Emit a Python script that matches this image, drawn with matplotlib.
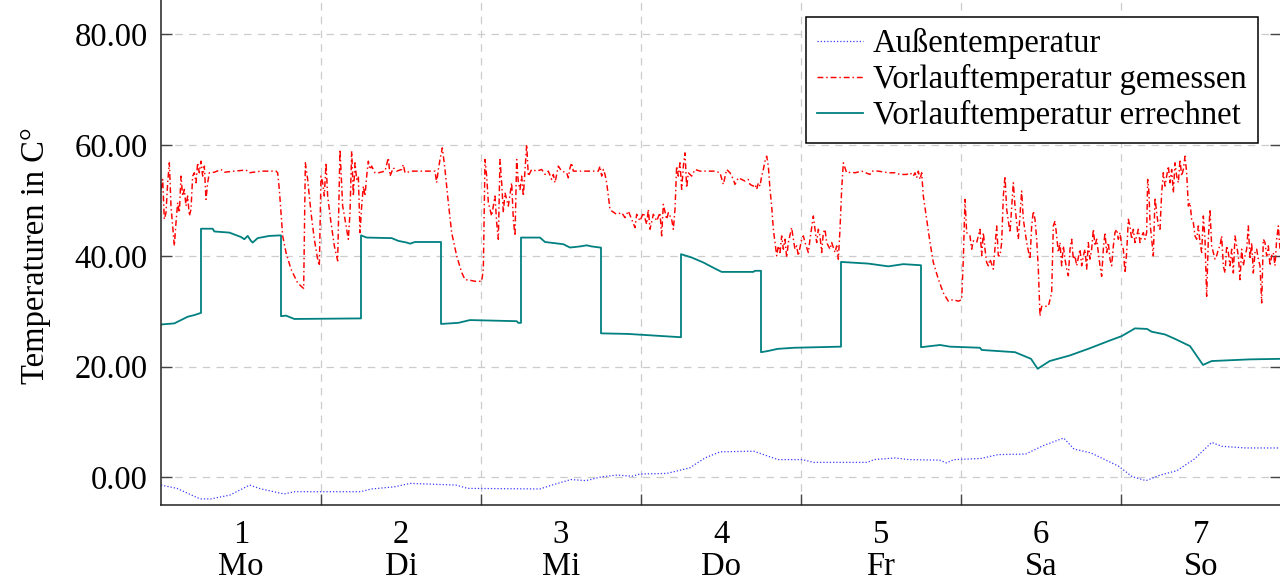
import matplotlib
matplotlib.use("Agg")
import matplotlib.pyplot as plt
import numpy as np
from matplotlib.ticker import FixedLocator, FixedFormatter, FormatStrFormatter

plt.rcParams["font.family"] = ["Liberation Serif", "DejaVu Serif"]

# --- data (time in hours from Monday 00:00, temperatures in degC) ---
day_numbers = ["1", "2", "3", "4", "5", "6", "7"]
day_names = ["Mo", "Di", "Mi", "Do", "Fr", "Sa", "So"]

outside_points = [
    (0.0, -1.4), (2.4, -2.0), (5.85, -3.9), (7.5, -3.9), (10.35, -3.2), (13.3, -1.4),
    (15.0, -2.1), (18.45, -3.0), (20.1, -2.6), (29.9, -2.6), (31.65, -2.1), (35.1, -1.7),
    (37.35, -1.1), (44.25, -1.4), (46.0, -2.0), (56.85, -2.1), (58.65, -1.4), (61.5, -0.4),
    (63.75, -0.6), (66.1, 0.1), (68.4, 0.4), (70.65, 0.2), (71.85, 0.6), (75.85, 0.7),
    (79.3, 1.7), (81.6, 3.5), (83.85, 4.6), (87.9, 4.7), (88.95, 4.7), (92.55, 3.2),
    (96.15, 3.2), (97.95, 2.7), (105.95, 2.7), (106.95, 3.2), (110.1, 3.5), (112.15, 3.2),
    (116.8, 3.1), (117.85, 2.6), (118.9, 3.2), (123.0, 3.4), (125.55, 4.1), (129.7, 4.2),
    (132.3, 5.7), (135.4, 7.1), (136.95, 5.1), (139.5, 4.4), (143.65, 2.0), (145.7, 0.1),
    (147.75, -0.6), (149.85, 0.4), (152.4, 1.2), (155.0, 3.3), (157.6, 6.3), (159.15, 5.6),
    (162.75, 5.3), (168.0, 5.3),
]

measured_points = [
    # Mo
    (0.0, 52.0), (0.25, 53.8), (0.5, 46.6), (0.75, 47.8), (1.0, 53.2), (1.25, 56.8),
    (1.5, 49.0), (1.75, 45.4), (2.0, 41.8), (2.25, 46.0), (2.5, 49.6), (2.75, 47.8),
    (3.0, 54.4), (3.25, 50.8), (3.5, 52.0), (3.75, 49.0), (4.0, 50.8), (4.25, 47.2),
    (4.5, 48.4), (4.75, 54.4), (5.0, 55.0), (5.25, 53.2), (5.5, 56.8), (5.75, 55.0),
    (6.0, 57.1), (6.25, 54.4), (6.5, 56.2), (6.75, 50.2), (7.0, 53.2), (7.25, 55.0),
    (8.0, 55.1), (9.0, 55.6), (9.5, 55.1), (11.0, 55.3), (12.75, 55.5), (13.25, 55.0),
    (15.0, 55.3), (17.25, 55.3), (17.5, 55.0), (17.75, 52.0), (18.0, 47.8), (18.25, 43.6),
    (18.75, 40.6), (19.5, 37.6), (20.5, 35.1), (21.4, 34.1), (21.65, 56.8), (22.0, 53.8),
    (22.5, 47.8), (23.0, 43.0), (23.5, 39.4), (23.75, 38.2), (24.0, 54.4), (24.25, 53.2),
    (24.5, 50.8), (24.75, 56.8), (25.0, 50.8), (25.5, 46.0), (26.0, 41.8), (26.5, 39.1),
    (26.85, 59.2), (27.25, 49.0),
    # Di
    (27.6, 46.6), (28.1, 43.0), (28.35, 47.8), (28.6, 58.9), (28.85, 50.8), (29.1, 56.8),
    (29.35, 53.8), (29.6, 54.4), (29.85, 44.2), (30.1, 49.0), (30.35, 52.6), (30.6, 50.8),
    (30.85, 54.4), (31.1, 57.1), (31.35, 55.6), (31.6, 56.2), (32.1, 55.0), (32.6, 55.0),
    (33.6, 55.3), (34.1, 57.7), (34.35, 54.4), (34.85, 55.9), (35.35, 55.3), (36.1, 55.6),
    (36.35, 56.5), (36.6, 55.0), (37.6, 55.3), (41.1, 55.3), (41.35, 53.2), (41.6, 55.6),
    (41.85, 57.4), (42.2, 59.5), (42.6, 55.6), (43.1, 49.6), (43.6, 44.2), (44.35, 40.0),
    (45.1, 37.0), (45.6, 35.7), (46.35, 35.6), (47.1, 35.4), (48.1, 35.4), (48.35, 37.6),
    (48.6, 57.4), (48.85, 54.4), (49.1, 49.6), (49.6, 47.2), (50.1, 50.8), (50.35, 46.0),
    (50.6, 43.0), (50.85, 57.4), (51.1, 53.2), (51.35, 47.8), (51.6, 51.4), (52.1, 49.0),
    (52.6, 53.2), (52.85, 46.6), (53.1, 43.6), (53.35, 57.4), (53.6, 53.2), (53.85, 52.0),
    (54.1, 54.4), (54.35, 50.8), (54.85, 60.1), (55.1, 54.4), (55.6, 55.6),
    # Mi
    (56.35, 55.3), (57.1, 55.6), (57.6, 54.7), (58.1, 55.3), (58.6, 53.8), (58.85, 54.7),
    (59.1, 53.2), (59.6, 56.2), (60.1, 55.3), (60.85, 55.0), (61.1, 54.1), (61.35, 55.9),
    (61.6, 56.8), (61.85, 55.3), (62.85, 55.3), (65.6, 55.3), (65.85, 56.2), (66.1, 54.4),
    (66.35, 55.6), (66.6, 54.7), (66.85, 53.2), (67.1, 50.8), (67.35, 48.4), (67.6, 48.1),
    (68.35, 47.5), (69.1, 47.8), (69.6, 46.9), (70.1, 48.1), (70.6, 46.6), (71.1, 45.1),
    (71.35, 47.5), (71.85, 46.3), (72.35, 47.8), (72.85, 45.7), (73.1, 48.4), (73.35, 44.8),
    (73.85, 47.5), (74.35, 46.3), (74.85, 47.8), (75.1, 43.6), (75.35, 49.3), (75.85, 46.6),
    (76.1, 47.8), (76.6, 46.6), (76.85, 44.8), (77.1, 48.4), (77.35, 56.2), (77.6, 54.4),
    (77.85, 56.8), (78.1, 52.0), (78.35, 56.2), (78.6, 58.6), (78.85, 52.3), (79.1, 55.0),
    (79.6, 54.4), (80.1, 55.6), (80.85, 55.3), (82.85, 55.3),
    # Do
    (83.1, 55.3), (83.85, 55.0), (84.35, 52.9), (84.85, 55.6), (85.35, 55.0), (85.85, 53.8),
    (86.1, 52.9), (86.6, 54.1), (87.1, 53.8), (87.6, 53.5), (88.1, 53.8), (88.35, 52.9),
    (88.85, 52.6), (89.1, 52.9), (89.35, 52.0), (89.6, 53.2), (89.85, 52.6), (90.1, 54.4),
    (90.35, 55.6), (90.6, 57.1), (90.85, 58.0), (91.1, 56.2), (91.35, 52.0), (91.6, 49.0),
    (91.85, 44.8), (92.1, 42.4), (92.35, 40.0), (92.6, 41.8), (92.85, 40.6), (93.1, 43.6),
    (93.35, 41.2), (93.6, 43.0), (93.85, 39.7), (94.1, 42.4), (94.6, 45.1), (94.85, 43.0),
    (95.1, 41.2), (95.35, 41.8), (95.6, 40.0), (96.1, 43.0), (96.35, 43.6), (96.6, 42.4),
    (97.1, 40.6), (97.35, 43.0), (97.85, 47.2), (98.1, 44.8), (98.35, 42.4), (98.6, 44.8),
    (98.85, 43.6), (99.1, 40.6), (99.35, 44.2), (99.6, 44.8), (99.85, 42.4), (100.1, 41.8),
    (100.35, 41.2), (100.6, 42.4), (101.1, 40.6), (101.35, 41.8), (101.6, 39.4), (101.85, 44.8),
    (102.1, 52.0), (102.35, 56.8), (102.6, 55.9), (102.85, 55.0), (103.6, 55.1), (104.1, 55.0),
    (105.1, 55.3), (106.35, 54.7), (106.6, 55.3), (107.6, 55.3), (109.1, 55.0), (110.1, 55.0),
    # Fr
    (110.85, 54.7), (111.85, 54.7), (112.35, 55.0), (112.85, 54.4), (113.1, 55.0), (113.35, 54.1),
    (113.6, 55.3), (113.85, 53.8), (114.1, 55.0), (114.35, 50.8), (114.85, 46.6), (115.35, 42.4),
    (115.85, 38.8), (116.6, 35.8), (117.35, 33.3), (118.1, 31.8), (118.85, 32.1), (119.6, 31.8),
    (120.1, 32.1), (120.35, 39.4), (120.6, 50.2), (120.85, 44.2), (121.35, 43.6), (121.6, 41.2),
    (121.85, 42.7), (122.35, 42.4), (122.85, 44.8), (123.1, 40.0), (123.35, 44.2), (123.6, 41.2),
    (123.85, 38.8), (124.1, 38.2), (124.35, 39.4), (124.85, 37.6), (125.35, 45.4), (125.6, 40.0),
    (125.85, 40.0), (126.1, 42.4), (126.35, 50.8), (126.6, 54.4), (126.85, 48.4), (127.35, 44.2),
    (127.85, 53.2), (128.1, 49.0), (128.6, 43.0), (129.1, 51.7), (129.35, 46.6), (129.85, 42.4),
    (130.35, 39.4), (130.6, 45.4), (130.85, 48.1), (131.1, 46.6), (131.35, 43.0), (131.6, 37.6),
    (131.85, 29.1), (132.1, 30.9), (132.6, 30.9), (133.1, 30.9), (133.6, 33.3), (133.85, 45.4),
    (134.1, 46.3), (134.35, 43.6), (134.6, 40.6), (134.85, 42.4), (135.1, 38.2), (135.35, 41.8),
    (135.6, 39.4), (135.85, 37.6), (136.1, 36.4), (136.35, 41.2), (136.6, 43.0), (136.85, 39.4),
    (137.1, 40.0), (137.35, 38.2), (137.85, 41.2), (138.1, 38.2), (138.35, 40.0),
    # Sa / So
    (138.6, 41.2), (138.85, 37.6), (139.1, 42.4), (139.35, 39.4), (139.6, 41.2), (139.85, 44.8),
    (140.1, 41.8), (140.35, 43.0), (140.6, 40.6), (140.85, 38.2), (141.1, 36.3), (141.35, 41.2),
    (141.6, 44.2), (141.85, 40.6), (142.1, 42.4), (142.35, 39.4), (142.6, 38.2), (142.85, 41.8),
    (143.1, 44.2), (143.35, 44.8), (143.6, 43.0), (143.85, 44.2), (144.1, 41.8), (144.35, 41.2),
    (144.6, 36.9), (144.85, 40.6), (145.1, 46.6), (145.35, 45.4), (145.6, 43.0), (145.85, 44.8),
    (146.1, 42.4), (146.6, 44.8), (146.85, 42.4), (147.1, 43.6), (147.35, 44.2), (147.6, 43.0),
    (147.85, 44.2), (148.0, 53.8), (148.2, 51.4), (148.35, 46.0), (148.6, 43.0), (148.85, 40.0),
    (149.1, 50.5), (149.35, 47.8), (149.6, 45.4), (149.85, 44.8), (150.1, 51.4), (150.35, 55.0),
    (150.6, 52.6), (150.85, 54.4), (151.1, 56.2), (151.35, 53.2), (151.6, 55.6), (151.85, 51.4),
    (152.1, 56.8), (152.35, 54.4), (152.6, 53.2), (152.85, 57.4), (153.1, 54.4), (153.35, 55.6),
    (153.6, 58.0), (153.85, 55.0), (154.1, 49.0), (154.35, 49.6), (154.6, 46.6), (154.85, 46.0),
    (155.1, 43.6), (155.35, 43.0), (155.6, 45.4), (155.85, 42.4), (156.1, 40.6), (156.35, 47.2),
    (156.6, 43.0), (156.85, 32.7), (157.1, 43.0), (157.35, 48.4), (157.6, 41.8), (157.85, 40.6),
    (158.1, 39.4), (158.35, 40.0), (158.6, 41.2), (158.85, 41.8), (159.1, 43.6), (159.35, 38.2),
    (159.6, 36.9), (159.85, 41.8), (160.1, 40.6), (160.35, 38.2), (160.6, 41.2), (160.85, 36.9),
    (161.1, 43.6), (161.35, 41.8), (161.6, 40.0), (161.85, 35.7), (162.1, 41.2), (162.35, 38.2),
    (162.6, 40.0), (162.85, 41.2), (163.1, 45.4), (163.35, 39.4), (163.6, 42.4), (163.85, 36.9),
    (164.1, 40.6), (164.35, 41.2), (164.6, 39.4), (164.85, 38.2), (165.1, 31.5), (165.35, 43.0),
    (165.6, 42.4), (165.85, 40.0), (166.1, 41.8), (166.35, 38.2), (166.6, 40.0), (166.85, 40.6),
    (167.1, 38.2), (167.35, 43.0), (167.6, 45.4), (167.85, 41.2),
]

computed_points = [
    (0, 27.6), (2, 27.8), (3, 28.4), (4, 29.0), (5, 29.3), (6, 29.7),
    (6, 44.9), (7.75, 44.9), (8, 44.4), (10.25, 44.2), (12, 43.4), (12.5, 43.0),
    (13, 43.6), (13.5, 42.7), (13.75, 42.4), (14.5, 43.2), (16.25, 43.6), (18, 43.7),
    (18, 29.1), (18.75, 29.2), (20, 28.6), (30, 28.7),
    (30, 43.7), (30.85, 43.3), (34.6, 43.2), (35.6, 42.7), (36.85, 42.4), (37.35, 42.2),
    (38.1, 42.5), (42, 42.5),
    (42, 27.7), (44.6, 27.9), (46.35, 28.4), (53.35, 28.2), (53.6, 27.9), (54, 27.9),
    (54, 43.3), (56.85, 43.3), (57.6, 42.5), (60.35, 42.1), (61.35, 41.5), (62.85, 41.7),
    (63.85, 41.9), (64.6, 41.7), (65.85, 41.5), (66, 41.5),
    (66, 26.0), (70, 25.9), (74, 25.6), (78, 25.3),
    (78, 40.3), (79.6, 39.7), (81.35, 38.8), (83.1, 37.7), (84.1, 37.1), (88.85, 37.1),
    (89.1, 37.3), (90, 37.3),
    (90, 22.6), (91, 22.8), (92.5, 23.2), (95, 23.4), (102, 23.6),
    (102, 38.9), (106.1, 38.6), (109.1, 38.1), (111.35, 38.5), (114, 38.3),
    (114, 23.5), (116.85, 23.9), (118.35, 23.6), (122.85, 23.4), (123.1, 23.0), (128.1, 22.6),
    (130.5, 21.4), (131.5, 19.6), (133.3, 21.0), (136.3, 22.0), (139.3, 23.3), (142.3, 24.7),
    (144.1, 25.5), (146.1, 26.9), (147.9, 26.8), (148.6, 26.3), (150.6, 25.8), (152.1, 25.0),
    (154.35, 23.7), (156.3, 20.3), (157.6, 21.0), (163.3, 21.3), (168, 21.4),
]

outside_h, outside_t = np.array(outside_points).T
measured_h, measured_t = np.array(measured_points).T
computed_h, computed_t = np.array(computed_points).T

FS = 23.5

fig = plt.figure(figsize=(12.8, 5.83), dpi=100)
ax = fig.add_axes([161 / 1280, 78 / 583, 1120 / 1280, 526 / 583])

ax.plot(outside_h / 24, outside_t, color="#3a3aff", lw=0.9, linestyle=(0, (1, 1.6)),
        label="Außentemperatur")
ax.plot(measured_h / 24, measured_t, color="#ff0000", lw=1.05, linestyle=(0, (4, 2, 1, 2)),
        label="Vorlauftemperatur gemessen")
ax.plot(computed_h / 24, computed_t, color="#008080", lw=1.3, linestyle="-",
        label="Vorlauftemperatur errechnet")

ax.set_xlim(0, 7)
ax.set_ylim(-5, 90)

# day boundaries: ticks + grid, day centres: labels
ax.xaxis.set_major_locator(FixedLocator(np.arange(1, 7)))
ax.xaxis.set_major_formatter(FixedFormatter([""] * 6))
ax.xaxis.set_minor_locator(FixedLocator(np.arange(7) + 0.5))
ax.xaxis.set_minor_formatter(FixedFormatter([f"{n}\n{d}" for n, d in zip(day_numbers, day_names)]))
ax.tick_params(axis="x", which="major", direction="in", length=8, width=1.0, color="#444444")
ax.tick_params(axis="x", which="minor", length=0, pad=10.5, labelsize=FS)
for lbl in ax.xaxis.get_minorticklabels():
    lbl.set_linespacing(1.07)

ax.yaxis.set_major_locator(FixedLocator([0, 20, 40, 60, 80]))
ax.yaxis.set_major_formatter(FormatStrFormatter("%.2f"))
ax.tick_params(axis="y", direction="in", length=8, width=1.0, color="#444444",
               right=True, labelsize=FS, pad=9.5)

ax.grid(True, which="major", color="#cccccc", linestyle=(0, (6, 5)), linewidth=0.9)
ax.set_axisbelow(True)

for side in ("left", "bottom", "right", "top"):
    ax.spines[side].set_linewidth(1.1)
    ax.spines[side].set_color("#222222")

ax.set_ylabel("Temperaturen in C°", fontsize=FS)
ax.yaxis.set_label_coords(-0.098, 0.475)

leg = ax.legend(loc="upper right", bbox_to_anchor=(1258 / 1280, 1 - 17 / 583),
                bbox_transform=fig.transFigure, borderaxespad=0, fontsize=FS,
                fancybox=False, framealpha=1, edgecolor="black", handlelength=1.4,
                handletextpad=0.3, labelspacing=0.15, borderpad=0.35)
leg.get_frame().set_linewidth(1.1)

fig.savefig("out.png", dpi=100)
